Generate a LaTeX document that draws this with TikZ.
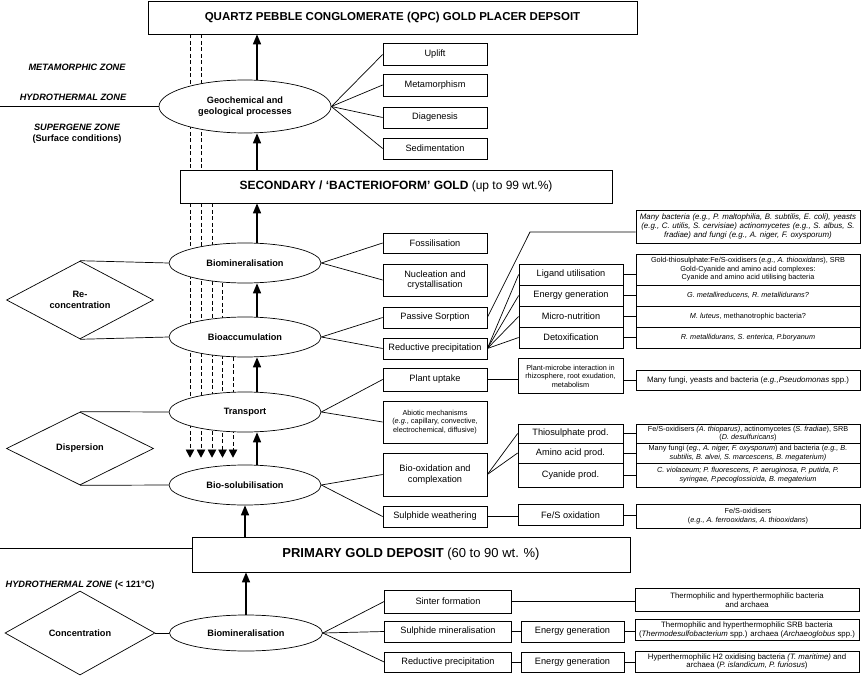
\documentclass[tikz,border=0pt]{standalone}
\usepackage{fontspec}
\setmainfont{Liberation Sans}
\usetikzlibrary{shapes.geometric,arrows.meta,backgrounds}
\newcommand{\ftop}{\fontsize{11.5}{13}\selectfont}
\newcommand{\fbig}{\fontsize{12}{14}\selectfont}
\newcommand{\fmid}{\fontsize{9.2}{10.6}\selectfont}
\newcommand{\fsml}{\fontsize{7.3}{8.5}\selectfont}
\newcommand{\fsmb}{\fontsize{7.9}{8.8}\selectfont}

\begin{document}
\begin{tikzpicture}[x=1pt,y=-1pt,line width=0.7pt,
    box/.style={draw,fill=white,inner sep=1pt,align=center,font=\fmid},
    sbox/.style={draw,fill=white,inner sep=1pt,align=center,font=\fsml},
    ell/.style={draw,fill=white,ellipse,inner sep=0pt,align=center,font=\fmid\bfseries},
    dia/.style={draw,fill=white,diamond,inner sep=0pt,align=center,font=\fmid\bfseries},
    zone/.style={align=center,font=\fmid\bfseries\itshape},
    up/.style={line width=1.5pt,-{Triangle[length=10pt,width=8pt]}},
    dn/.style={dash pattern=on 4pt off 2.5pt,-{Triangle[length=8pt,width=8.5pt]}}]
\useasboundingbox (0,0) rectangle (861,676);

% upper part
\node[draw,fill=white,minimum width=489pt,minimum height=33pt,font=\ftop\bfseries] (qpc) at (392.5,17.5) {QUARTZ PEBBLE CONGLOMERATE (QPC) GOLD PLACER DEPSOIT};
\node[ell,minimum width=172pt,minimum height=53pt] (geo) at (245,106.5) {Geochemical and\\geological processes};
\foreach \n/\t/\y/\h in {upl/Uplift/54.5/22, met/Metamorphism/85/22, diag/Diagenesis/117.5/21, sed/Sedimentation/148.5/21}
    \node[box,minimum width=104pt,minimum height=\h pt] (\n) at (435,\y) {\t};
\foreach \n in {upl,met,diag,sed}
    \draw (geo.east) -- (\n.west);
\node[zone] (mz) at (77,67) {METAMORPHIC ZONE};
\node[zone] (hz) at (73,97) {HYDROTHERMAL ZONE};
\node[zone] (sz) at (77,127) {SUPERGENE ZONE};
\node[font=\fmid\bfseries] (sc) at (77,139) {(Surface conditions)};
\coordinate (h1) at (0,106.5);
\draw (h1) -- (geo.west);

\node[draw,fill=white,minimum width=432pt,minimum height=33pt,font=\fbig] (sec) at (396,186.5) {\textbf{SECONDARY / ‘BACTERIOFORM’ GOLD} (up to 99 wt.\%)};

% middle part
\foreach \n/\t/\y in {bmin/Biomineralisation/263, bacc/Bioaccumulation/337, tra/Transport/412, bsol/Bio-solubilisation/485}
    \node[ell,minimum width=152pt,minimum height=40pt] (\n) at (245,\y) {\t};
\node[dia,minimum width=147pt,minimum height=74pt] (rec) at (80,300) {Re-\\concentration};
\node[dia,minimum width=147pt,minimum height=73pt] (disp) at (80,448.5) {Dispersion};
\draw (rec.north) -- (bmin.west);
\draw (rec.south) -- (bacc.west);
\draw (disp.north) -- (tra.west);
\draw (disp.south) -- (bsol.west);

\foreach \n/\t/\y/\h in {fos/Fossilisation/243/20, nuc/{Nucleation and\\crystallisation}/280/32, pas/Passive Sorption/317.5/21, red/Reductive precipitation/348.5/21, pla/Plant uptake/379.5/23, bio/{Bio-oxidation and\\complexation}/474.5/43, sw/Sulphide weathering/516.5/21}
    \node[box,minimum width=104pt,minimum height=\h pt] (\n) at (435,\y) {\t};
\node[sbox,minimum width=104pt,minimum height=42pt] (abi) at (435,422) {Abiotic mechanisms\\(\textit{e.g.}, capillary, convective,\\electrochemical, diffusive)};
\foreach \a/\b in {bmin/fos, bmin/nuc, bacc/pas, bacc/red, tra/pla, tra/abi, bsol/bio, bsol/sw}
    \draw (\a.east) -- (\b.west);

\node[sbox,text width=222pt,minimum height=33pt,font=\fsmb\itshape] (many) at (748,226.5) {Many bacteria (e.g., P. maltophilia, B. subtilis, E. coli), yeasts\\(e.g., C. utilis, S. cervisiae) actinomycetes (e.g., S. albus, S.\\fradiae) and fungi (e.g., A. niger, F. oxysporum)};
\coordinate (kink) at (530,232);
\draw (pas.east) -- (kink) -- (kink -| many.west);

\foreach \n/\t/\y in {lig/Ligand utilisation/274.5, eng/Energy generation/295.5, mic/Micro-nutrition/316.5, det/Detoxification/337.5}
    \node[box,minimum width=104pt,minimum height=21pt] (\n) at (571,\y) {\t};
\foreach \n in {lig,eng,mic,det}
    \draw (red.east) -- (\n.west);
\node[sbox,minimum width=224pt,minimum height=31pt] (gth) at (748,269.5) {Gold-thiosulphate:Fe/S-oxidisers (\textit{e.g., A. thiooxidans}), SRB\\Gold-Cyanide and amino acid complexes:\\Cyanide and amino acid utilising bacteria};
\node[sbox,minimum width=224pt,minimum height=21pt] (gme) at (748,295.5) {\textit{G. metallireducens, R. metallidurans?}};
\node[sbox,minimum width=224pt,minimum height=21pt] (mlu) at (748,316.5) {\textit{M. luteus}, methanotrophic bacteria?};
\node[sbox,minimum width=224pt,minimum height=21pt] (rme) at (748,337.5) {\textit{R. metallidurans, S. enterica, P.boryanum}};
\foreach \a/\b in {lig/gth, eng/gme, mic/mlu, det/rme}
    \draw (\a.east) -- (\a.east -| \b.west);

\node[sbox,minimum width=105pt,minimum height=35pt] (pmi) at (570.5,376) {Plant-microbe interaction in\\rhizosphere, root exudation,\\metabolism};
\node[sbox,minimum width=224pt,minimum height=20pt,font=\fsmb] (mfu) at (748,380) {Many fungi, yeasts and bacteria (\textit{e.g.,Pseudomonas} spp.)};
\draw (pla.east) -- (pla.east -| pmi.west);
\draw (pmi.east |- mfu.west) -- (mfu.west);

\foreach \n/\t/\y/\h in {thi/Thiosulphate prod./433.5/19, ami/Amino acid prod./453/20, cya/Cyanide prod./475/24}
    \node[box,minimum width=105pt,minimum height=\h pt] (\n) at (570.5,\y) {\t};
\draw (bio.east) -- (thi.west);
\draw (bio.east) -- (ami.west);
\node[sbox,minimum width=224pt,minimum height=19pt] (fso) at (748,433.5) {Fe/S-oxidisers \textit{(A. thioparus)}, actinomycetes (\textit{S. fradiae}), SRB\\(\textit{D. desulfuricans})};
\node[sbox,minimum width=224pt,minimum height=20pt] (mfa) at (748,453) {Many fungi (\textit{eg., A. niger, F. oxysporum}) and bacteria (\textit{e.g., B.}\\\textit{subtilis, B. alvei, S. marcescens, B. megaterium)}};
\node[sbox,minimum width=224pt,minimum height=24pt] (cvi) at (748,475) {\textit{C. violaceum; P. fluorescens, P. aeruginosa, P. putida, P.}\\\textit{syringae, P.pecoglossicida, B. megaterium}};
\foreach \a/\b in {thi/fso, ami/mfa, cya/cvi}
    \draw (\a.east) -- (\a.east -| \b.west);

\node[box,minimum width=105pt,minimum height=21pt] (fox) at (570.5,515) {Fe/S oxidation};
\node[sbox,minimum width=224pt,minimum height=24pt] (fsx) at (748,516) {Fe/S-oxidisers\\(\textit{e.g., A. ferrooxidans, A. thiooxidans})};
\draw (sw.east) -- (sw.east -| fox.west);
\draw (fox.east) -- (fox.east -| fsx.west);

% lower part
\node[draw,fill=white,minimum width=438pt,minimum height=35pt,font=\fontsize{13}{15}\selectfont] (pri) at (411,554.5) {\textbf{PRIMARY GOLD DEPOSIT} (60 to 90 wt. \%)};
\coordinate (h2) at (0,548);
\draw (h2) -- (h2 -| pri.west);
\node[anchor=west,font=\fmid\bfseries] (hz2) at (2,585) {\textit{HYDROTHERMAL ZONE} (< 121°C)};

\node[dia,minimum width=150pt,minimum height=84pt] (con) at (80,633) {Concentration};
\node[ell,minimum width=153pt,minimum height=36pt] (bmin2) at (246,633) {Biomineralisation};
\draw (con.east) -- (bmin2.west);
\foreach \n/\t/\y/\h in {sin/Sinter formation/601.5/23, smi/Sulphide mineralisation/631.5/21, rpr/Reductive precipitation/662/20}
    \node[box,minimum width=127pt,minimum height=\h pt] (\n) at (448,\y) {\t};
\foreach \n in {sin,smi,rpr}
    \draw (bmin2.east) -- (\n.west);
\node[box,minimum width=103pt,minimum height=21pt] (eg1) at (572.5,631.5) {Energy generation};
\node[box,minimum width=103pt,minimum height=20pt] (eg2) at (572.5,662) {Energy generation};
\node[sbox,minimum width=224pt,minimum height=23pt,font=\fontsize{7.8}{8.8}\selectfont] (thb) at (747,600) {Thermophilic and hyperthermophilic bacteria\\and archaea};
\node[sbox,minimum width=224pt,minimum height=21pt,font=\fontsize{7.8}{8.8}\selectfont] (srb) at (747,630) {Thermophilic and hyperthermophilic SRB bacteria\\(\textit{Thermodesulfobacterium} spp.) archaea (\textit{Archaeoglobus} spp.)};
\node[sbox,minimum width=224pt,minimum height=21pt,font=\fontsize{7.8}{8.8}\selectfont] (hyp) at (747,661.5) {Hyperthermophilic H2 oxidising bacteria \textit{(T. maritime)} and\\archaea (\textit{P. islandicum, P. furiosus})};
\foreach \a/\b in {sin/thb, smi/eg1, eg1/srb, rpr/eg2, eg2/hyp}
    \draw (\a.east) -- (\a.east -| \b.west);

% arrows
\draw[up] ([xshift=12pt]geo.north) -- ([xshift=12pt]geo.north |- qpc.south);
\draw[up] ([xshift=12pt]geo.south |- sec.north) -- ([xshift=12pt]geo.south);
\draw[up] ([xshift=12pt]bmin.north) -- ([xshift=12pt]bmin.north |- sec.south);
\foreach \a/\b in {bacc/bmin, tra/bacc, bsol/tra}
    \draw[up] ([xshift=12pt]\a.north) -- ([xshift=12pt]\b.south);
\draw[up] (pri.north -| bsol.south) -- (bsol.south);
\draw[up] (bmin2.north) -- (bmin2.north |- pri.south);

\begin{pgfonlayer}{background}
\foreach \x/\s in {190/qpc, 201/qpc, 212/sec, 222.5/bmin, 233/bacc}
    \draw[dn,shorten >=7pt] (\x,0 |- \s.south) -- (\x,0 |- bsol.north);
\end{pgfonlayer}
\end{tikzpicture}
\end{document}
